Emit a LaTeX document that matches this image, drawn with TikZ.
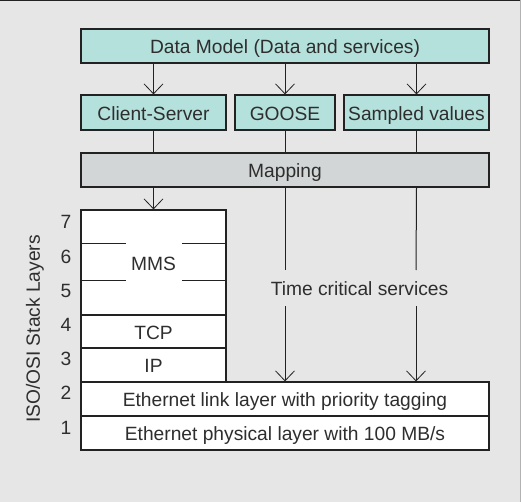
\documentclass[tikz,border=0pt]{standalone}
\usepackage{fontspec}
\setmainfont{Liberation Sans}
\usetikzlibrary{arrows.meta}
\definecolor{bgc}{HTML}{E6E6E6}
\definecolor{teal}{HTML}{B5E1DC}
\definecolor{mapc}{HTML}{D3D6D6}
\definecolor{ln}{HTML}{222222}
\definecolor{tx}{HTML}{2E2E2E}
\tikzset{
  box/.style={draw=ln, line width=1.2pt, minimum width=#1, inner sep=0pt, font=\fontsize{19.2}{21}\selectfont, text=tx, text height=15.5pt, text depth=0pt},
  tealbox/.style={box=#1, fill=teal, minimum height=34pt},
  whitebox/.style={box=#1, fill=white},
  arr/.style={draw=ln, line width=1pt, -{Straight Barb[length=10pt,width=19pt,line width=0.8pt]}},
  conn/.style={draw=ln, line width=1pt},
  lbl/.style={font=\fontsize{19.2}{21}\selectfont, text=tx, inner sep=0pt},
}
\begin{document}
\begin{tikzpicture}[x=1pt,y=-1pt]
\useasboundingbox (0,0) rectangle (521,502);
\fill[bgc] (0,0) rectangle (521,502);
\draw[ln, line width=1.5pt] (0,0.75) -- (521,0.75);
\draw[gray!60, line width=1pt] (520.5,0) -- (520.5,502);

\node[tealbox=408pt] (dm) at (285,46) {Data Model (Data and services)};
\node[tealbox=145pt, minimum height=35pt] (cs) at (153.5,112.5) {Client-Server};
\node[tealbox=100pt, minimum height=35pt] (goose) at (285,112.5) {GOOSE};
\node[tealbox=145pt, minimum height=35pt] (sv) at (416.5,112.5) {Sampled values};
\node[box=408pt, fill=mapc, minimum height=34pt] (map) at (285,170) {Mapping};

\node[whitebox=145pt, minimum height=105pt] (mms) at (153.5,262.5) {MMS};
\node[whitebox=145pt, minimum height=33pt] (tcp) at (153.5,331.5) {TCP};
\node[whitebox=145pt, minimum height=34pt] (ip) at (153.5,365) {IP};
\node[whitebox=408pt, minimum height=34pt] (eth) at (285,399) {Ethernet link layer with priority tagging};
\node[whitebox=408pt, minimum height=34pt] (phy) at (285,433) {Ethernet physical layer with 100 MB/s};

% partial layer lines in MMS block
\draw[conn] (mms.west |- 0,244) -- (126,244) (182,244) -- (mms.east |- 0,244);
\draw[conn] (mms.west |- 0,280) -- (126,280) (182,280) -- (mms.east |- 0,280);

% arrows data model -> services
\draw[arr] (cs.north |- dm.south) -- (cs.north);
\draw[arr] (goose.north |- dm.south) -- (goose.north);
\draw[arr] (sv.north |- dm.south) -- (sv.north);
% services -> mapping
\draw[conn] (cs.south) -- (cs.south |- map.north);
\draw[conn] (goose.south) -- (goose.south |- map.north);
\draw[conn] (sv.south) -- (sv.south |- map.north);
% mapping -> MMS
\draw[arr] (mms.north |- map.south) -- (mms.north);

% time critical services
\node[lbl] (tcs) at (359.5,289) {Time critical services};
\coordinate (ga) at (285,270);
\coordinate (gb) at (285,306);
\coordinate (sa) at (416,270);
\coordinate (sb) at (416,306);
\draw[conn] (goose.south |- map.south) -- (ga);
\draw[arr] (gb) -- (gb |- eth.north);
\draw[conn] (sv.south |- map.south) -- (sa);
\draw[arr] (sb) -- (sb |- eth.north);

% layer numbers
\node[lbl] (n7) at (66,222) {7};
\node[lbl] (n6) at (66,257) {6};
\node[lbl] (n5) at (66,291) {5};
\node[lbl] (n4) at (66,325) {4};
\node[lbl] (n3) at (66,359) {3};
\node[lbl] (n2) at (66,393) {2};
\node[lbl] (n1) at (66,428) {1};
\node[lbl, rotate=90] (side) at (35,329) {ISO/OSI Stack Layers};
\end{tikzpicture}
\end{document}
